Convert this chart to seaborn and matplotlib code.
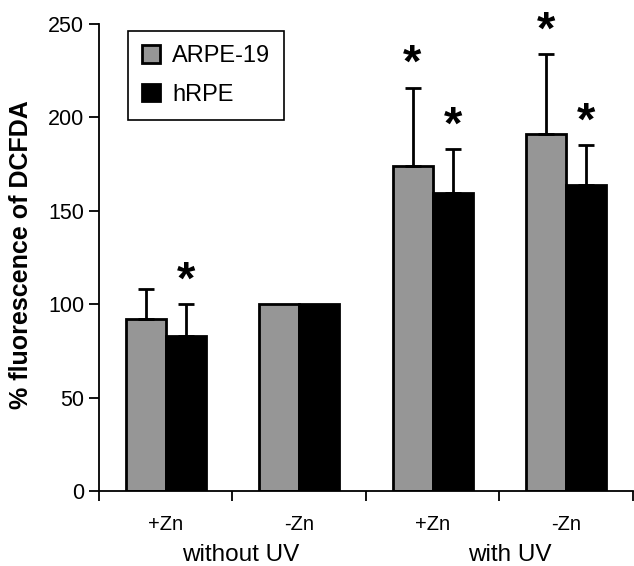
import matplotlib.pyplot as plt
import matplotlib.transforms as mtransforms
import numpy as np
import pandas as pd
import seaborn as sns

# valorile
conditii = ['+Zn', '-Zn', '+Zn', '-Zn']
grupuri = ['without UV', 'with UV']
celule = ['ARPE-19', 'hRPE']
arpe = [92, 100, 174, 191]
arpe_err = [16, 0, 42, 43]
hrpe = [83, 100, 159.5, 164]
hrpe_err = [17, 0, 23.5, 21]
stele_arpe = [False, False, True, True]
stele_hrpe = [True, False, True, True]

df = pd.DataFrame({
    'cond': list(range(4)) * 2,
    'val': arpe + hrpe,
    'cell': [celule[0]] * 4 + [celule[1]] * 4,
})

sns.set_style('ticks')
plt.rcParams['font.family'] = ['Liberation Sans', 'DejaVu Sans']
plt.rcParams.update({'text.color': 'black', 'axes.labelcolor': 'black',
                     'xtick.color': 'black', 'ytick.color': 'black',
                     'axes.edgecolor': 'black'})

fig = plt.figure(figsize=(6.34, 5.66), dpi=100)
ax = fig.add_axes([0.156, 0.1325, 0.842, 0.825])

sns.barplot(data=df, x='cond', y='val', hue='cell', hue_order=celule,
            palette=['#969696', '#000000'], width=0.6, gap=0,
            edgecolor='black', linewidth=2, saturation=1, ax=ax)

# bare de eroare (doar in sus) + stelute
for cont, err, stele in zip(ax.containers, [arpe_err, hrpe_err], [stele_arpe, stele_hrpe]):
    for p, e, s in zip(cont.patches, err, stele):
        xc = p.get_x() + p.get_width() / 2
        h = p.get_height()
        if e > 0:
            ax.errorbar(xc, h, yerr=[[0], [e]], fmt='none', ecolor='black',
                        elinewidth=2, capsize=6, capthick=2)
        if s:
            ax.text(xc, h + e + 12, '*', ha='center', va='center',
                    fontsize=34, fontweight='bold')

ax.set_xlim(-0.5, 3.5)
ax.set_ylim(0, 250)
ax.set_yticks([0, 50, 100, 150, 200, 250])
ax.set_xticks([-0.5, 0.5, 1.5, 2.5, 3.5])
ax.set_xticklabels([])
ax.set_xticks(range(4), minor=True)
ax.set_xticklabels(conditii, minor=True, fontsize=14.5)
ax.tick_params(axis='x', which='minor', length=0, pad=17)
ax.tick_params(axis='x', which='major', length=7, width=1.3)
ax.tick_params(axis='y', length=7, width=1.3, labelsize=15.5)
ax.set_xlabel('')
ax.set_ylabel('% fluorescence of DCFDA', fontsize=18, fontweight='bold', labelpad=9)
ax.yaxis.set_label_coords(-0.123, 0.506)
sns.despine(ax=ax)
for sp in ['left', 'bottom']:
    ax.spines[sp].set_linewidth(1.3)

trans = mtransforms.blended_transform_factory(ax.transData, ax.transAxes)
for xg, g in zip([0.56, 2.58], grupuri):
    ax.text(xg, -0.137, g, transform=trans, ha='center', va='center', fontsize=17.5)

leg = ax.legend(loc='upper left', bbox_to_anchor=(0.033, 1.01), fontsize=17,
                frameon=True, fancybox=False, edgecolor='black', framealpha=1,
                handlelength=0.75, handleheight=0.75, handletextpad=0.5,
                labelspacing=0.7, borderpad=0.6)
leg.get_frame().set_linewidth(1.2)

fig.savefig('out.png', dpi=100)
